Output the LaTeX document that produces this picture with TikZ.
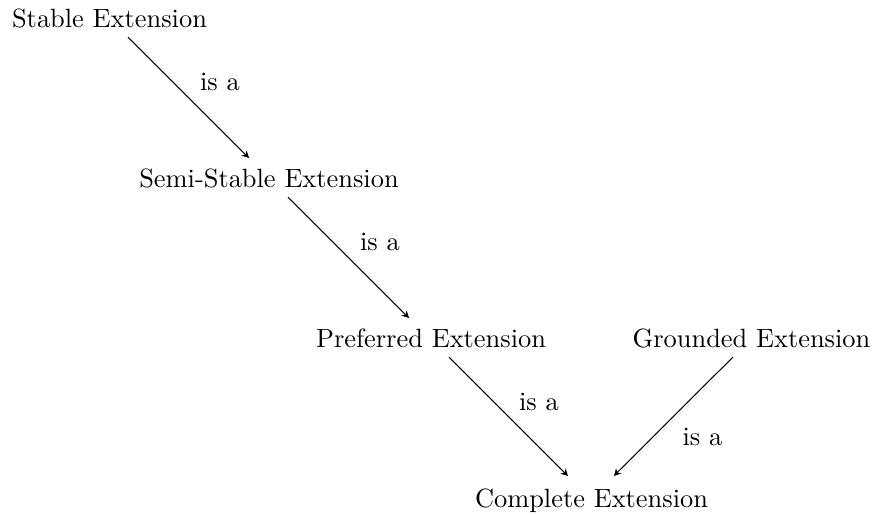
\documentclass[tikz,border=0pt]{standalone}
\usetikzlibrary{arrows.meta}
\begin{document}
\begin{tikzpicture}[x=0.3788pt,y=-0.3788pt,
  ext/.style={inner sep=0pt,anchor=base},
  lbl/.style={inner sep=0pt,anchor=base},
  isa/.style={-{Stealth[length=2.7pt,width=2.8pt,inset=0.9pt]},thin}]
\useasboundingbox (0,0) rectangle (874,514);
\node[ext] (st) at (109.5,27) {Stable Extension};
\node[ext] (ss) at (269,187) {Semi-Stable Extension};
\node[ext] (pr) at (431,347) {Preferred Extension};
\node[ext] (gr) at (751.5,347) {Grounded Extension};
\node[ext] (co) at (591.5,507) {Complete Extension};
\draw[isa] ([shift={(18.5,10)}]st.base) -- ([shift={(-20,-29)}]ss.base);
\draw[isa] ([shift={(19,10)}]ss.base) -- ([shift={(-22,-29)}]pr.base);
\draw[isa] ([shift={(18,10)}]pr.base) -- ([shift={(-23.5,-31)}]co.base);
\draw[isa] ([shift={(-18.5,10)}]gr.base) -- ([shift={(22.5,-31)}]co.base);
\node[lbl] (l1) at (220,90) {is a};
\node[lbl] (l2) at (380,250) {is a};
\node[lbl] (l3) at (539,410) {is a};
\node[lbl] (l4) at (702.5,445) {is a};
\end{tikzpicture}
\end{document}
